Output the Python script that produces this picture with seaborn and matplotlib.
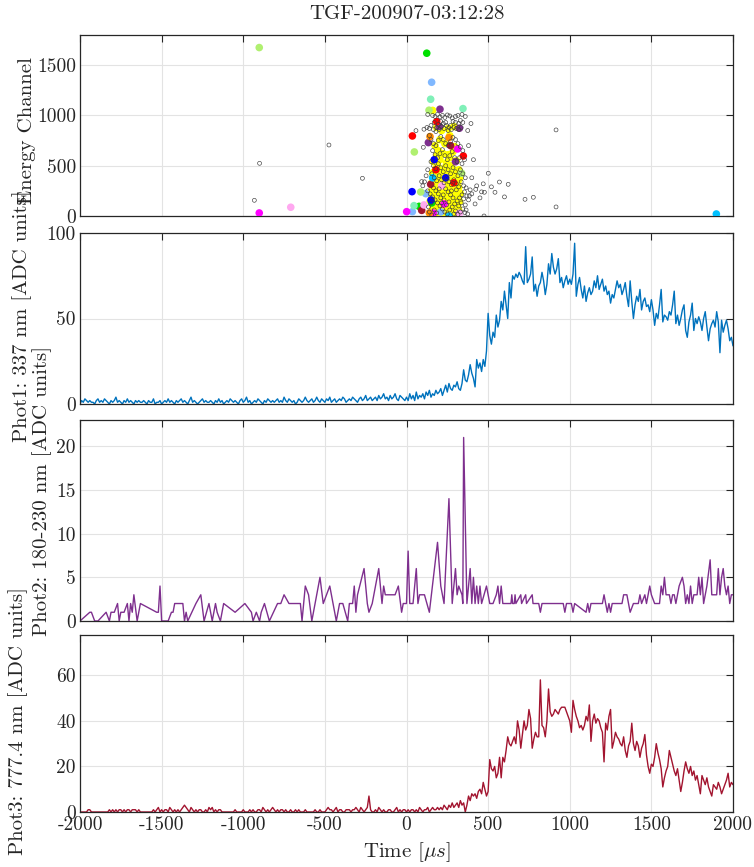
import numpy as np
import pandas as pd
import matplotlib
matplotlib.use("Agg")
import matplotlib.pyplot as plt
from matplotlib.ticker import FixedLocator, FixedFormatter
import seaborn as sns

# ---------------------------------------------------------------- data
title = "TGF-200907-03:12:28"

# photometer sample times (10 us bins)
phot_time = np.arange(-2000, 2001, 10)

phot1_337 = [
    0, 2, 1, 3, 2, 1, 2, 1, 1, 0, 2, 3, 1, 2, 1, 3, 2, 1, 0, 2,
    1, 2, 4, 1, 2, 1, 0, 2, 1, 3, 1, 2, 1, 0, 2, 1, 2, 1, 1, 2,
    1, 0, 2, 1, 1, 3, 0, 1, 1, 2, 0, 1, 2, 1, 3, 1, 2, 1, 0, 2,
    1, 2, 3, 1, 2, 1, 0, 2, 4, 1, 2, 1, 0, 1, 2, 3, 1, 2, 1, 1,
    2, 1, 0, 2, 1, 3, 1, 2, 0, 1, 2, 1, 3, 2, 1, 2, 1, 0, 2, 3,
    1, 2, 4, 1, 2, 0, 1, 2, 1, 3, 2, 1, 0, 2, 1, 3, 2, 1, 2, 1,
    2, 3, 1, 2, 1, 4, 2, 1, 3, 2, 1, 2, 0, 1, 3, 2, 1, 2, 4, 2,
    1, 2, 3, 1, 2, 4, 2, 1, 3, 2, 1, 3, 2, 4, 1, 2, 3, 1, 2, 3,
    2, 4, 3, 1, 2, 3, 2, 4, 3, 2, 1, 3, 4, 2, 3, 5, 2, 3, 4, 2,
    3, 4, 2, 5, 3, 4, 6, 3, 4, 2, 5, 3, 4, 6, 3, 2, 5, 4, 3, 2,
    4, 2, 6, 3, 5, 2, 7, 3, 5, 4, 6, 3, 7, 5, 8, 4, 6, 5, 8, 6,
    7, 9, 5, 8, 11, 7, 12, 9, 8, 11, 10, 13, 9, 8, 12, 20, 14, 13, 17, 23,
    18, 15, 10, 26, 21, 24, 19, 26, 22, 31, 53, 40, 35, 42, 39, 52, 45, 49, 60, 55,
    66, 58, 50, 71, 62, 75, 73, 76, 74, 77, 75, 72, 70, 92, 71, 73, 76, 86, 66, 70,
    63, 69, 71, 77, 72, 64, 70, 82, 76, 88, 80, 76, 79, 85, 71, 74, 68, 72, 75, 70,
    73, 70, 76, 94, 63, 70, 74, 67, 62, 69, 60, 65, 68, 64, 66, 72, 68, 75, 67, 70,
    73, 66, 69, 64, 66, 59, 64, 62, 67, 72, 68, 70, 64, 67, 71, 63, 57, 72, 60, 50,
    58, 63, 60, 67, 55, 60, 62, 57, 58, 54, 61, 55, 46, 53, 50, 58, 67, 48, 52, 51,
    49, 54, 52, 58, 66, 47, 52, 46, 50, 55, 58, 43, 39, 48, 52, 59, 43, 50, 47, 51,
    48, 43, 50, 54, 45, 37, 44, 47, 49, 45, 54, 48, 30, 49, 42, 46, 49, 44, 37, 39,
    34,
]

phot3_777 = [
    0, 0, 0, 0, 0, 1, 1, 0, 0, 0, 0, 0, 0, 0, 0, 0, 0, 0, 1, 0,
    1, 0, 1, 0, 1, 1, 0, 1, 0, 1, 1, 0, 1, 1, 1, 0, 1, 0, 0, 0,
    0, 0, 0, 0, 0, 1, 0, 1, 2, 0, 1, 0, 1, 1, 0, 2, 1, 0, 1, 0,
    1, 0, 1, 2, 3, 2, 1, 0, 2, 1, 0, 1, 0, 1, 1, 0, 0, 1, 0, 2,
    1, 2, 0, 1, 0, 1, 1, 0, 0, 0, 0, 0, 0, 0, 0, 1, 0, 0, 0, 0,
    1, 0, 0, 0, 1, 0, 1, 0, 0, 1, 1, 0, 2, 1, 0, 1, 0, 1, 2, 1,
    0, 1, 0, 1, 1, 0, 1, 0, 0, 1, 0, 0, 1, 0, 1, 0, 0, 0, 1, 0,
    0, 0, 0, 0, 1, 0, 0, 1, 0, 0, 0, 1, 2, 1, 1, 0, 1, 2, 0, 1,
    1, 0, 0, 1, 1, 1, 0, 1, 1, 2, 1, 0, 2, 1, 0, 1, 2, 7, 1, 0,
    0, 1, 0, 2, 1, 0, 1, 0, 0, 1, 1, 0, 0, 1, 2, 0, 1, 0, 1, 1,
    0, 1, 0, 1, 1, 0, 1, 0, 2, 1, 0, 1, 1, 2, 0, 1, 2, 1, 1, 2,
    1, 2, 1, 3, 2, 1, 3, 2, 4, 2, 3, 4, 2, 5, 3, 4, 0, 3, 7, 5,
    8, 7, 8, 6, 9, 10, 8, 13, 10, 7, 9, 23, 19, 18, 20, 15, 17, 24, 15, 24,
    22, 27, 33, 30, 29, 31, 33, 30, 40, 36, 28, 34, 40, 36, 38, 45, 41, 28, 32, 35,
    33, 33, 58, 38, 37, 33, 40, 54, 44, 42, 43, 45, 44, 43, 45, 46, 46, 46, 44, 42,
    40, 35, 49, 45, 42, 40, 37, 38, 36, 38, 42, 40, 47, 31, 40, 43, 39, 41, 40, 37,
    35, 22, 39, 36, 42, 45, 28, 31, 35, 33, 32, 30, 29, 33, 27, 24, 29, 31, 39, 30,
    27, 31, 29, 24, 28, 30, 34, 25, 20, 17, 21, 20, 24, 30, 26, 23, 19, 11, 15, 18,
    20, 27, 24, 21, 18, 16, 19, 14, 9, 13, 18, 22, 19, 17, 20, 16, 18, 14, 16, 12,
    8, 16, 14, 12, 15, 11, 9, 7, 12, 11, 10, 13, 11, 8, 10, 12, 14, 17, 11, 13,
    12,
]

# Phot2 only reports the samples that were read out
phot2_time = [
    -2000, -1940, -1930, -1910, -1890, -1840, -1820, -1810, -1790, -1770,
    -1760, -1750, -1730, -1710, -1700, -1690, -1680, -1670, -1650, -1630,
    -1530, -1520, -1510, -1500, -1460, -1440, -1430, -1420, -1370, -1360,
    -1350, -1340, -1290, -1260, -1240, -1210, -1190, -1170, -1160, -1140,
    -1120, -1050, -990, -950, -940, -920, -900, -890, -870, -840,
    -790, -770, -750, -720, -650, -640, -620, -600, -580, -530,
    -510, -490, -470, -450, -430, -410, -390, -360, -350, -330,
    -320, -310, -300, -260, -240, -230, -210, -170, -150, -140,
    -130, -80, -70, -50, -30, -20, 0, 10, 20, 40,
    60, 70, 80, 110, 140, 190, 210, 230, 260, 280,
    300, 310, 320, 340, 345, 350, 370, 390, 400, 410,
    420, 430, 440, 450, 460, 490, 510, 530, 550, 560,
    570, 580, 590, 640, 645, 650, 660, 665, 670, 700,
    705, 730, 735, 770, 775, 810, 820, 830, 960, 970,
    980, 1010, 1020, 1030, 1100, 1110, 1120, 1130, 1200, 1210,
    1230, 1240, 1250, 1260, 1320, 1330, 1350, 1360, 1370, 1390,
    1420, 1430, 1440, 1460, 1470, 1490, 1500, 1520, 1550, 1560,
    1570, 1580, 1590, 1610, 1620, 1630, 1640, 1650, 1670, 1690,
    1700, 1710, 1720, 1730, 1740, 1750, 1760, 1780, 1790, 1800,
    1810, 1820, 1840, 1860, 1870, 1890, 1900, 1910, 1920, 1930,
    1940, 1950, 1960, 1970, 1980, 1990, 2000,
]
phot2_180_230 = [
    0, 1, 1, 0, 0, 1, 0, 1, 1, 2,
    0, 1, 1, 2, 0, 2, 1, 3, 0, 2,
    1, 1, 4, 0, 0, 1, 1, 2, 2, 0,
    1, 0, 2, 3, 0, 2, 0, 2, 1, 0,
    2, 1, 2, 1, 0, 1, 0, 1, 2, 0,
    2, 2, 3, 2, 2, 0, 4, 3, 0, 5,
    2, 3, 4, 2, 0, 2, 2, 0, 2, 2,
    4, 1, 3, 6, 2, 1, 2, 6, 2, 4,
    3, 3, 3, 4, 1, 2, 2, 8, 2, 2,
    6, 2, 3, 3, 1, 9, 4, 2, 14, 2,
    6, 3, 4, 3, 2, 21, 2, 6, 2, 5,
    2, 4, 2, 4, 2, 4, 2, 2, 3, 4,
    2, 4, 2, 2, 3, 2, 2, 3, 2, 3,
    2, 3, 2, 3, 2, 2, 1, 2, 2, 1,
    2, 2, 1, 2, 1, 2, 1, 2, 2, 3,
    1, 2, 1, 2, 2, 3, 3, 2, 1, 2,
    2, 3, 2, 3, 2, 4, 3, 2, 2, 4,
    3, 5, 3, 3, 2, 3, 3, 2, 4, 5,
    4, 2, 3, 2, 4, 2, 3, 3, 5, 3,
    5, 2, 4, 7, 3, 3, 3, 6, 3, 5,
    6, 4, 3, 4, 2, 3, 3,
]

# gamma-ray detector hits: every event (open rings)
event_time = [
    160, 175, 190, 205, 220, 235, 250, 265, 280, 300, 315, 170, 185, 200, 215,
    230, 245, 260, 275, 290, 305, 320, 335, 150, 165, 180, 195, 210, 225, 240,
    255, 270, 285, 300, 320, 330, 140, 125, 345, 340,
    140, 150, 165, 180, 195, 210, 225, 240, 255, 270, 285, 300, 315, 330, 345,
    160, 175, 190, 205, 220, 235, 250, 265, 280, 295, 310, 325, 340, 355, 150,
    165, 180, 195, 210, 225, 240, 255, 270, 285, 300, 315, 330, 345, 360, 155,
    170, 185, 200, 215, 230, 245, 260, 275, 290, 305, 320, 335, 350, 365, 120,
    110, 130, 100,
    130, 145, 160, 175, 190, 205, 220, 235, 250, 265, 280, 295, 310, 325, 340,
    355, 370, 380, 360, 345, 330, 315, 300, 285, 270, 255, 240, 225, 210, 195,
    180, 165, 150, 135, 140, 155, 170, 185, 200, 215, 230, 245, 260, 275, 290,
    305, 320, 335, 350, 365, 375, 390, 400,
    -900, -932, -475, -270, 916, 916, 58, 107, 103, 93, 358, 475, 501, 569, 623,
    542, 477, 470, 424, 385, 726, 777, 430, 450, 400, 410, 380, 375, 395, 360,
    130, 420, 460, 520, 600,
]
event_energy = [
    1000, 990, 1010, 985, 1000, 980, 1005, 995, 975, 990, 1000, 930, 880, 860, 890,
    870, 900, 880, 860, 880, 870, 860, 880, 900, 860, 840, 910, 940, 920, 930,
    850, 900, 940, 930, 920, 950, 870, 880, 930, 1010,
    800, 760, 720, 700, 750, 790, 760, 720, 700, 740, 780, 760, 720, 690, 650,
    650, 610, 580, 620, 660, 600, 560, 600, 640, 580, 540, 580, 520, 560, 540,
    500, 470, 520, 480, 440, 500, 460, 420, 480, 440, 400, 460, 420, 380, 420,
    380, 350, 400, 360, 330, 380, 340, 310, 360, 320, 290, 340, 300, 280, 400,
    340, 460, 300,
    250, 220, 190, 160, 130, 100, 70, 40, 20, 60, 90, 120, 150, 180, 210,
    240, 200, 160, 110, 70, 40, 15, 50, 180, 210, 240, 270, 210, 180, 220,
    250, 280, 130, 90, 40, 10, 60, 30, 270, 130, 160, 110, 140, 250, 20,
    260, 100, 130, 170, 60, 20, 260, 220,
    524, 156, 706, 375, 856, 90, 849, 863, 683, 342, 33, 0, 425, 338, 315,
    236, 236, 320, 265, 202, 166, 186, 300, 180, 380, 560, 700, 850, 920, 990,
    1010, 120, 240, 290, 190,
]

# hits flagged by detector channel (filled dots)
hit_time = [
    150, 170, 190, 210, 230, 250, 270, 290, 310, 160, 180, 200, 220, 240, 260, 280, 300, 320,
    145, 165, 185, 205, 225, 245, 265, 285, 305, 325, 155, 195, 235, 275, 315,
    150, 170, 190, 210, 230, 250, 270, 290, 310, 330, 160, 200, 240, 280, 320,
    155, 175, 195, 215, 235, 255, 275, 295, 315, 165, 205, 245, 285, 325,
    160, 180, 200, 220, 240, 260, 280, 300, 320, 190, 230, 270,
    165, 185, 205, 225, 245, 265, 285, 305, 195, 255,
    175, 205, 235, 265, 295, 215, 185, 255, 290, 160,
    175, 195, 215, 235, 255, 275, 295, 315, 165, 185, 215, 255, 295,
    175, 215, 255, 295, 165, 205, 245, 285, 180, 220, 260, 300,
    190, 230, 270, 310, 210, 250, 290, 180, 240, 280, 200, 230, 265, 305, 250,
    124, 77, 155,
    154, 118, 36, 210,
    148, 346, 46,
    205, 324, 134, 300, 200,
    185, 36, 348, 180, 290,
    -902, 48, 87, 338, 138,
    -902, 313, 1, 164, 230,
    144, 140, 260,
    34, 150, 240, 170,
    93, 148, 270,
    -709, 107, 324, 215,
    262, 1898, 160,
]
hit_energy = [
    20, 40, 15, 50, 25, 45, 15, 35, 20, 80, 95, 70, 100, 80, 60, 90, 75, 55,
    150, 130, 170, 140, 180, 120, 160, 135, 175, 145, 190, 115, 195, 110, 200,
    240, 220, 260, 230, 280, 250, 215, 270, 240, 225, 290, 295, 215, 300, 285,
    330, 360, 320, 380, 345, 390, 330, 370, 340, 395, 350, 320, 395, 375,
    430, 470, 420, 455, 490, 440, 475, 430, 460, 500, 420, 500,
    540, 600, 560, 620, 530, 580, 640, 550, 650, 610,
    700, 760, 720, 800, 690, 850, 880, 870, 890, 1050,
    10, 55, 20, 65, 30, 70, 10, 85, 120, 135, 105, 145, 100,
    200, 195, 205, 210, 255, 265, 245, 235, 310, 300, 305, 315,
    400, 380, 370, 410, 440, 465, 450, 180, 160, 185, 330, 40, 100, 140, 350,
    1619, 96, 130,
    1330, 222, 43, 40,
    1161, 1068, 103,
    1062, 873, 730, 540, 890,
    939, 796, 597, 460, 330,
    1675, 637, 239, 425, 1052,
    30, 667, 43, 30, 120,
    790, 30, 780,
    242, 159, 380, 560,
    56, 315, 700,
    87, 110, 27, 300,
    0, 20, 380,
]
hit_channel = (
    ["yellow"] * 134
    + ["green"] * 3
    + ["lightblue"] * 4
    + ["aquamarine"] * 3
    + ["purple"] * 5
    + ["red"] * 5
    + ["lime"] * 5
    + ["magenta"] * 5
    + ["orange"] * 3
    + ["blue"] * 4
    + ["darkred"] * 3
    + ["pink"] * 4
    + ["cyan"] * 3
)
channel_colors = {
    "yellow": "#FFFF00", "green": "#00E000", "lightblue": "#80B8FF",
    "aquamarine": "#80F0B8", "purple": "#7E2F8E", "red": "#FF0000",
    "lime": "#B0F070", "magenta": "#FF00FF", "orange": "#FF8C00",
    "blue": "#0000FF", "darkred": "#A2142F", "pink": "#FFA8F0",
    "cyan": "#00C0FF",
}

xticks = [-2000, -1500, -1000, -500, 0, 500, 1000, 1500, 2000]
xtick_labels = ["-2000", "-1500", "-1000", "-500", "0", "500", "1000", "1500", "2000"]

# ---------------------------------------------------------------- style
sns.set_theme(style="white")
plt.rcParams.update({
    "font.family": ["cmr10", "DejaVu Serif"],
    "mathtext.fontset": "cm",
    "axes.unicode_minus": False,
    "axes.formatter.use_mathtext": True,
    "axes.edgecolor": "#262626",
    "axes.linewidth": 0.9,
    "xtick.direction": "in",
    "ytick.direction": "in",
    "xtick.color": "#262626",
    "ytick.color": "#262626",
    "xtick.labelcolor": "#262626",
    "ytick.labelcolor": "#262626",
})

W, H = 754, 867
fig = plt.figure(figsize=(W / 100, H / 100), dpi=100)

def px_axes(top, bottom, left=80, right=733):
    return fig.add_axes([left / W, 1 - bottom / H, (right - left) / W, (bottom - top) / H])

ax_e = px_axes(35, 216)
ax_p1 = px_axes(233, 404)
ax_p2 = px_axes(420, 621)
ax_p3 = px_axes(635, 812)
axes = [ax_e, ax_p1, ax_p2, ax_p3]

# ---------------------------------------------------------------- panels
hits = pd.DataFrame({"t": hit_time, "E": hit_energy, "ch": hit_channel})
events = pd.DataFrame({"t": event_time, "E": event_energy})
sns.scatterplot(data=hits, x="t", y="E", hue="ch", palette=channel_colors,
                s=30, linewidth=0, legend=False, ax=ax_e, zorder=3)
sns.scatterplot(data=events, x="t", y="E", s=8, marker="o",
                facecolors="none", edgecolor="#3A3A3A", linewidth=0.45,
                legend=False, ax=ax_e, zorder=4)

p1 = pd.DataFrame({"t": phot_time, "v": phot1_337})
p2 = pd.DataFrame({"t": phot2_time, "v": phot2_180_230})
p3 = pd.DataFrame({"t": phot_time, "v": phot3_777})
sns.lineplot(data=p1, x="t", y="v", color="#0072BD", lw=1.0, estimator=None, sort=False, ax=ax_p1)
sns.lineplot(data=p2, x="t", y="v", color="#7E2F8E", lw=1.0, estimator=None, sort=False, ax=ax_p2)
sns.lineplot(data=p3, x="t", y="v", color="#A2142F", lw=1.0, estimator=None, sort=False, ax=ax_p3)

ylims = [(0, 1800), (0, 100), (0, 23), (0, 77.7)]
yticks = [[0, 500, 1000, 1500], [0, 50, 100], [0, 5, 10, 15, 20], [0, 20, 40, 60]]
for ax, yl, yt in zip(axes, ylims, yticks):
    ax.set_xlim(-2000, 2000)
    ax.set_ylim(*yl)
    ax.xaxis.set_major_locator(FixedLocator(xticks))
    ax.xaxis.set_major_formatter(FixedFormatter(xtick_labels))
    ax.set_yticks(yt)
    ax.set_yticklabels([str(v) for v in yt])
    ax.grid(True, color="#E3E3E3", lw=0.8)
    ax.set_axisbelow(True)
    ax.tick_params(axis="both", which="both", top=True, right=True, length=5,
                   width=0.8, labelsize=14, pad=3)
    ax.set_xlabel("")
    ax.set_ylabel("")
    for sp in ax.spines.values():
        sp.set_visible(True)
    if ax is not ax_p3:
        ax.tick_params(labelbottom=False)

# ---------------------------------------------------------------- labels
fig.text(406.5 / W, 1 - 14 / H, title, ha="center", va="center", fontsize=15)
fig.text(406.5 / W, 1 - 852 / H, r"Time [$\mu s$]", ha="center", va="center", fontsize=15)

ylabels = [
    ("Energy Channel", 27, 131),
    ("Phot1: 337 nm [ADC units]", 22, 316),
    ("Phot2: 180-230 nm [ADC units]", 42, 491),
    ("Phot3: 777.4 nm [ADC units]", 18, 721),
]
for text, xc, yc in ylabels:
    fig.text(xc / W, 1 - yc / H, text, rotation=90, ha="center", va="center", fontsize=15)

fig.savefig("out.png", dpi=100)
